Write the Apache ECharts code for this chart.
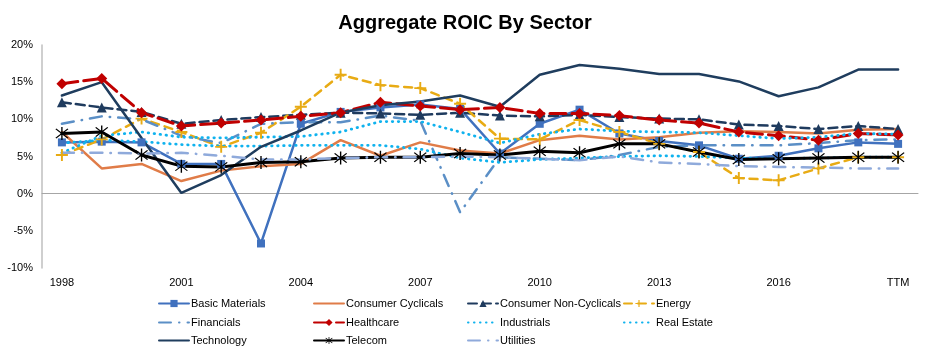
<!DOCTYPE html>
<html>
<head>
<meta charset="utf-8">
<title>Aggregate ROIC By Sector</title>
<script src="https://cdn.jsdelivr.net/npm/echarts@6/dist/echarts.min.js"></script>
<style>
  html, body { margin: 0; padding: 0; background: #fff; }
  #roicChart { width: 930px; height: 354px; }
</style>
</head>
<body>
<div id="roicChart"></div>
<script>
  // x categories
  var years = ['1998', '1999', '2000', '2001', '2002', '2003', '2004', '2005', '2006', '2007', '2008',
    '2009', '2010', '2011', '2012', '2013', '2014', '2015', '2016', '2017', '2018', 'TTM'];

  // ROIC by sector, %
  var basicMaterials = [6.9, 7.0, 6.9, 4.0, 4.0, -6.7, 9.4, 11.0, 11.6, 12.0, 11.4, 5.4, 9.4, 11.3, 8.1, 7.1, 6.5, 4.7, 5.1, 6.1, 6.9, 6.7];
  var consumerCyclicals = [8.3, 3.4, 4.0, 1.7, 3.1, 3.7, 4.0, 7.2, 5.1, 6.9, 5.8, 5.4, 7.2, 7.8, 7.3, 7.6, 8.2, 8.4, 8.3, 8.1, 8.6, 8.7];
  var consumerNonCyclicals = [12.3, 11.6, 11.0, 9.4, 9.9, 10.3, 10.6, 10.9, 10.8, 10.6, 10.9, 10.5, 10.4, 10.6, 10.3, 10.1, 10.0, 9.3, 9.1, 8.7, 9.1, 8.7];
  var energy = [5.2, 7.3, 10.1, 8.3, 6.3, 8.2, 11.7, 16.0, 14.6, 14.2, 12.1, 7.4, 7.3, 9.9, 8.3, 6.7, 5.6, 2.1, 1.8, 3.4, 4.9, 4.9];
  var financials = [9.4, 10.4, 10.0, 7.8, 6.8, 9.4, 9.6, 9.6, 10.5, 9.8, -2.5, 4.9, 4.7, 4.5, 5.2, 6.3, 6.5, 6.5, 6.5, 6.8, 7.2, 7.3];
  var healthcare = [14.8, 15.5, 10.9, 9.1, 9.5, 9.9, 10.4, 10.9, 12.3, 11.8, 11.3, 11.6, 10.8, 10.8, 10.5, 9.9, 9.5, 8.3, 7.8, 7.2, 8.1, 7.9];
  var industrials = [5.5, 7.8, 8.3, 7.6, 7.5, 7.6, 7.7, 8.3, 9.7, 9.7, 8.3, 6.8, 8.0, 8.7, 8.4, 8.3, 8.2, 7.8, 7.4, 7.6, 8.1, 8.0];
  var realEstate = [6.8, 7.2, 7.0, 6.6, 6.4, 6.4, 6.5, 6.5, 6.5, 6.0, 4.8, 4.2, 4.6, 4.8, 5.0, 5.1, 5.0, 4.8, 4.7, 4.8, 4.9, 4.9];
  var technology = [13.2, 15.0, 7.5, 0.1, 2.5, 6.3, 8.5, 10.9, 11.9, 12.4, 13.2, 11.7, 16.0, 17.3, 16.8, 16.1, 16.1, 15.1, 13.1, 14.3, 16.7, 16.7];
  var telecom = [8.1, 8.3, 5.2, 3.7, 3.6, 4.2, 4.3, 4.8, 4.9, 4.9, 5.4, 5.2, 5.7, 5.5, 6.7, 6.7, 5.6, 4.6, 4.7, 4.8, 4.9, 4.9];
  var utilities = [5.5, 5.5, 5.4, 5.5, 5.1, 4.6, 4.6, 4.8, 4.9, 4.9, 5.0, 4.9, 4.7, 4.5, 5.0, 4.2, 4.0, 3.7, 3.6, 3.5, 3.4, 3.4];

  var yTicks = [-10, -5, 0, 5, 10, 15, 20];

  // marker shapes that echarts has no name for
  var plusSymbol = 'path://M4.2,0 L5.8,0 L5.8,4.2 L10,4.2 L10,5.8 L5.8,5.8 L5.8,10 L4.2,10 L4.2,5.8 L0,5.8 L0,4.2 L4.2,4.2 Z';
  var starSymbol = 'path://M9.2,0 L10.8,0 L10.8,20 L9.2,20 Z M2.4,3.5 L3.5,2.4 L17.6,16.5 L16.5,17.6 Z M16.5,2.4 L17.6,3.5 L3.5,17.6 L2.4,16.5 Z';

  var font = 'Liberation Sans, Arial, sans-serif';

  function lineSeries(name, data, color, width, type, symbol, symbolSize) {
    return {
      name: name,
      type: 'line',
      data: data,
      color: color,
      symbol: symbol || 'none',
      symbolSize: symbolSize || 0,
      showSymbol: !!symbol,
      lineStyle: {color: color, width: width, type: type, cap: 'round'},
      itemStyle: {color: color},
      emphasis: {disabled: true},
      z: 2
    }
  }

  var seriesList = [
    lineSeries('Basic Materials', basicMaterials, '#4071BE', 2.5, 'solid', 'rect', 8),
    lineSeries('Consumer Cyclicals', consumerCyclicals, '#E07C48', 2.5, 'solid'),
    lineSeries('Consumer Non-Cyclicals', consumerNonCyclicals, '#1F3B5E', 2.5, [9, 5], 'triangle', 10),
    lineSeries('Energy', energy, '#E8AB14', 2.5, [8, 6], plusSymbol, 12),
    lineSeries('Financials', financials, '#5B8FC6', 2.5, [12, 8, 0.5, 8], null),
    lineSeries('Healthcare', healthcare, '#C00000', 3, [16, 6], 'diamond', 11),
    lineSeries('Industrials', industrials, '#0FB2EE', 2.8, [0.5, 5.5]),
    lineSeries('Real Estate', realEstate, '#0FB2EE', 2.8, [0.5, 5.5]),
    lineSeries('Technology', technology, '#1F3D5E', 2.5, 'solid'),
    lineSeries('Telecom', telecom, '#000000', 3, 'solid', starSymbol, 13),
    lineSeries('Utilities', utilities, '#8FAADB', 2.5, [12, 8, 0.5, 8], null)
  ];

  // one legend per item so the four columns line up
  var legendCols = [158, 313, 467, 623];
  var legendRows = [298, 317, 335];
  var legends = [];
  for (var i = 0; i < seriesList.length; i++) {
    var s = seriesList[i];
    var item = {name: s.name};
    if (!s.showSymbol) {
      // line only, no marker in the key
      item.itemStyle = {opacity: 0};
    }
    legends.push({
      data: [item],
      left: legendCols[i % 4],
      top: legendRows[Math.floor(i / 4)],
      padding: 0,
      itemWidth: 30,
      itemHeight: 9,
      itemGap: 0,
      selectedMode: false,
      textStyle: {fontSize: 11, color: '#000', fontFamily: font, padding: [0, 0, 0, -3]}
    });
  }

  var roicChart = echarts.init(document.getElementById('roicChart'));
  roicChart.setOption({
    animation: false,
    backgroundColor: '#fff',
    title: {
      text: 'Aggregate ROIC By Sector',
      left: 'center',
      top: 8,
      textStyle: {fontSize: 20, fontWeight: 'bold', color: '#000', fontFamily: font}
    },
    legend: legends,
    grid: {left: 42, right: 12, top: 45, bottom: 86},
    xAxis: [{
      type: 'category',
      data: years,
      boundaryGap: true,
      axisLine: {show: false, onZero: false},
      axisTick: {show: false},
      axisLabel: {interval: 2, margin: 9, fontSize: 11, color: '#000', fontFamily: font},
      splitLine: {show: false}
    }, {
      // the zero line
      type: 'category',
      data: years,
      position: 'bottom',
      axisLine: {show: true, onZero: true, lineStyle: {color: '#A6A6A6', width: 1}},
      axisTick: {show: false},
      axisLabel: {show: false},
      splitLine: {show: false}
    }],
    yAxis: {
      type: 'value',
      min: yTicks[0],
      max: yTicks[yTicks.length - 1],
      interval: 5,
      axisLine: {show: true, lineStyle: {color: '#BFBFBF', width: 1.5}},
      axisTick: {show: false},
      axisLabel: {formatter: '{value}%', margin: 9, fontSize: 11, color: '#000', fontFamily: font},
      splitLine: {show: false}
    },
    series: seriesList
  });
</script>
</body>
</html>
